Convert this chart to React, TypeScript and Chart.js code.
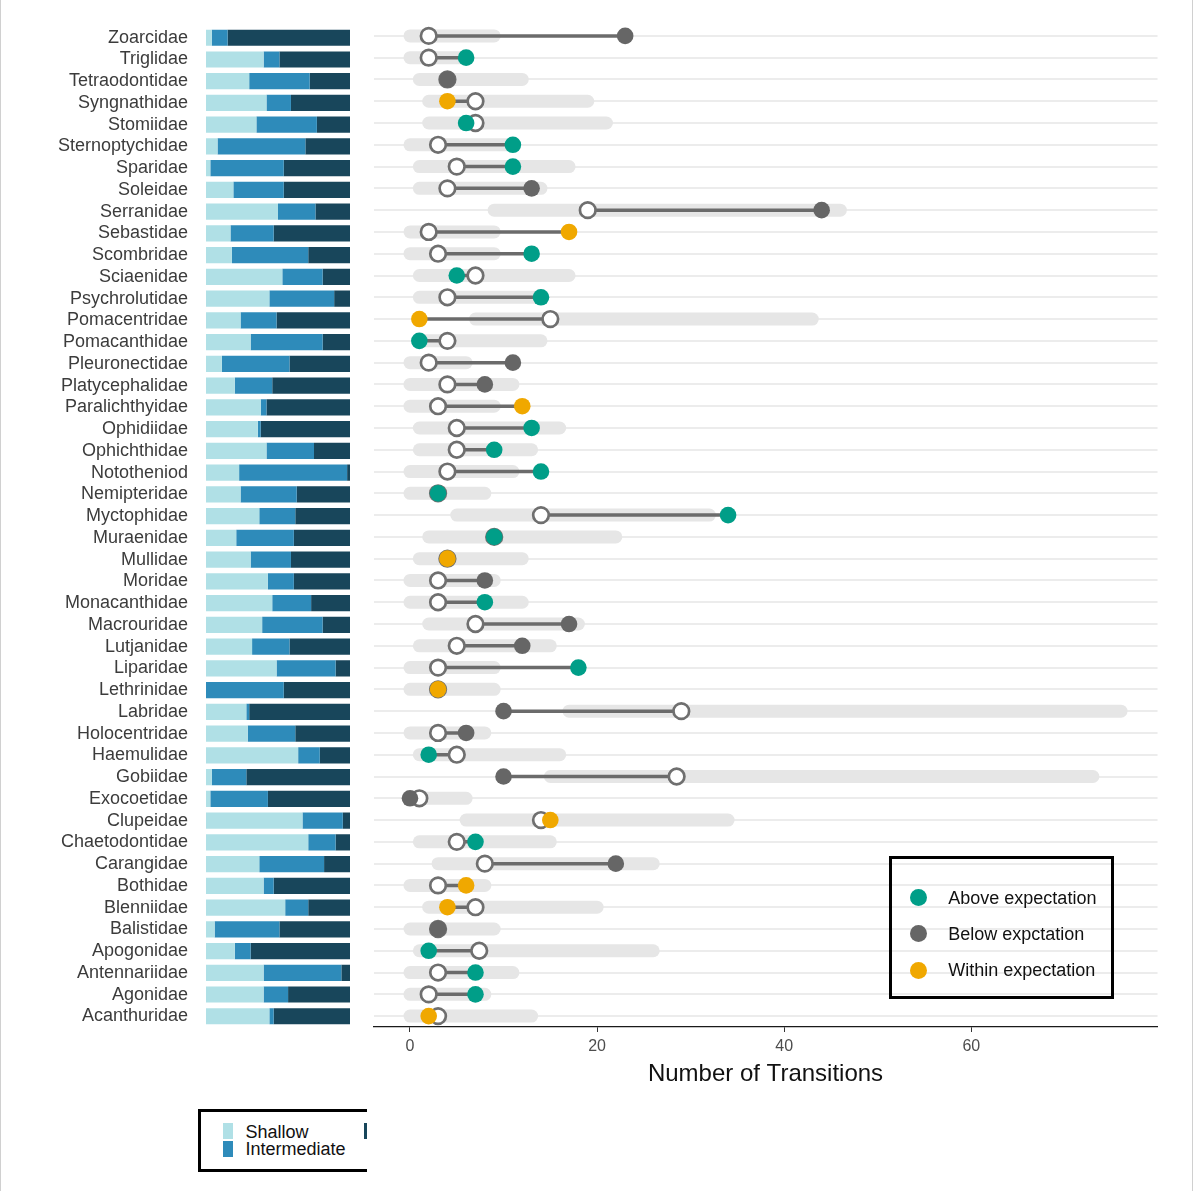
import React, { useEffect, useRef } from "react";
import { Chart, registerables } from "chart.js";

Chart.register(...registerables);

const FONT = '"Liberation Sans", Arial, Helvetica, sans-serif';
Chart.defaults.font.family = FONT;

// ---------- data ----------
const families = [
  "Zoarcidae", "Triglidae", "Tetraodontidae", "Syngnathidae", "Stomiidae",
  "Sternoptychidae", "Sparidae", "Soleidae", "Serranidae", "Sebastidae",
  "Scombridae", "Sciaenidae", "Psychrolutidae", "Pomacentridae", "Pomacanthidae",
  "Pleuronectidae", "Platycephalidae", "Paralichthyidae", "Ophidiidae", "Ophichthidae",
  "Nototheniod", "Nemipteridae", "Myctophidae", "Muraenidae", "Mullidae",
  "Moridae", "Monacanthidae", "Macrouridae", "Lutjanidae", "Liparidae",
  "Lethrinidae", "Labridae", "Holocentridae", "Haemulidae", "Gobiidae",
  "Exocoetidae", "Clupeidae", "Chaetodontidae", "Carangidae", "Bothidae",
  "Blenniidae", "Balistidae", "Apogonidae", "Antennariidae", "Agonidae",
  "Acanthuridae",
];

// depth proportions (%)
const shallow = [
  4, 40, 30, 42, 35, 8, 3, 19, 50, 17,
  18, 53, 44, 24, 31, 11, 20, 38, 36, 42,
  23, 24, 37, 21, 31, 43, 46, 39, 32, 49,
  0, 28, 29, 64, 4, 3, 67, 71, 37, 40,
  55, 6, 20, 40, 40, 44,
];
const intermediate = [
  11, 11, 42, 17, 42, 61, 51, 35, 26, 30,
  53, 28, 45, 25, 50, 47, 26, 4, 2, 33,
  75, 39, 25, 40, 28, 18, 27, 42, 26, 41,
  54, 2, 33, 15, 24, 40, 28, 19, 45, 7,
  16, 45, 11, 54, 17, 3,
];
const deep = [
  85, 49, 28, 41, 23, 31, 46, 46, 24, 53,
  29, 19, 11, 51, 19, 42, 54, 58, 62, 25,
  2, 37, 38, 39, 41, 39, 27, 19, 42, 10,
  46, 70, 38, 21, 72, 57, 5, 10, 18, 53,
  29, 49, 69, 6, 43, 53,
];

// expectation range (number of transitions)
const rangeLow = [
  0, 0, 1, 2, 2, 0, 1, 1, 9, 0,
  0, 1, 1, 7, 1, 0, 0, 0, 1, 1,
  0, 0, 5, 2, 1, 0, 0, 2, 1, 0,
  0, 17, 0, 1, 15, 0, 6, 1, 3, 0,
  2, 0, 1, 0, 0, 0,
];
const rangeHigh = [
  9, 6, 12, 19, 21, 11, 17, 14, 46, 9,
  9, 17, 14, 43, 14, 6, 11, 9, 16, 13,
  11, 8, 32, 22, 12, 9, 12, 18, 15, 9,
  9, 76, 8, 16, 73, 6, 34, 15, 26, 8,
  20, 9, 26, 11, 8, 13,
];
const expected = [
  2, 2, 4, 7, 7, 3, 5, 4, 19, 2,
  3, 7, 4, 15, 4, 2, 4, 3, 5, 5,
  4, 3, 14, 9, 4, 3, 3, 7, 5, 3,
  3, 29, 3, 5, 28.5, 1, 14, 5, 8, 3,
  7, 3, 7.4, 3, 2, 3,
];
const observed = [
  23, 6, 4, 4, 6, 11, 11, 13, 44, 17,
  13, 5, 14, 1, 1, 11, 8, 12, 13, 9,
  14, 3, 34, 9, 4, 8, 8, 17, 12, 18,
  3, 10, 6, 2, 10, 0, 15, 7, 22, 6,
  4, 3, 2, 7, 7, 2,
];
const status = [
  "below", "above", "below", "within", "above", "above", "above", "below", "below", "within",
  "above", "above", "above", "within", "above", "below", "below", "within", "above", "above",
  "above", "above", "above", "above", "within", "below", "above", "below", "below", "above",
  "within", "below", "below", "above", "below", "below", "within", "above", "below", "within",
  "within", "below", "above", "above", "above", "within",
];

const statusKeys = ["above", "below", "within"];
const statusLabels = ["Above expectation", "Below expctation", "Within expectation"];
const depthLabels = ["Shallow", "Intermediate", "Deep"];
const xTicks = [0, 20, 40, 60];

// ---------- styles ----------
const C_SHALLOW = "#b0e0e6";
const C_INTER = "#2e8bba";
const C_DEEP = "#18465b";
const depthColors = [C_SHALLOW, C_INTER, C_DEEP];
const dotColors: Record<string, string> = { above: "#009e88", below: "#666666", within: "#f0a800" };
const C_RANGE = "#e6e6e6";
const C_LINK = "#6b6b6b";
const C_RING = "#6f6f6f";

function LeftBars() {
  const ref = useRef<HTMLCanvasElement>(null);
  useEffect(() => {
    const chart = new Chart(ref.current as HTMLCanvasElement, {
      type: "bar",
      data: {
        labels: families,
        datasets: [shallow, intermediate, deep].map((d, k) => ({
          label: depthLabels[k],
          data: d,
          backgroundColor: depthColors[k],
          borderWidth: 0,
          barPercentage: 0.74,
          categoryPercentage: 1,
        })),
      },
      options: {
        indexAxis: "y",
        responsive: false,
        animation: false,
        events: [],
        layout: { padding: { top: 23, bottom: 3, right: 10, left: 0 } },
        scales: {
          x: { stacked: true, min: 0, max: 100, display: false },
          y: {
            stacked: true,
            offset: true,
            grid: { display: false, drawTicks: false },
            border: { display: false },
            ticks: { color: "#3c3c3c", font: { size: 18, family: FONT }, padding: 18, autoSkip: false },
            afterFit: (s: any) => {
              s.width = 206;
            },
          },
        },
        plugins: { legend: { display: false }, tooltip: { enabled: false } },
      } as any,
    });
    return () => chart.destroy();
  }, []);
  return <canvas ref={ref} width={360} height={1058} style={{ position: "absolute", left: 0, top: -2 }} />;
}

function RightDumbbell() {
  const ref = useRef<HTMLCanvasElement>(null);
  useEffect(() => {
    const rangeSets = families.map((f, i) => ({
      type: "scatter",
      data: [
        { x: rangeLow[i], y: f },
        { x: rangeHigh[i], y: f },
      ],
      showLine: true,
      borderColor: C_RANGE,
      borderWidth: 13,
      borderCapStyle: "round",
      pointRadius: 0,
      order: 40,
    }));
    const linkSets = families.map((f, i) => ({
      type: "scatter",
      data: [
        { x: expected[i], y: f },
        { x: observed[i], y: f },
      ],
      showLine: true,
      borderColor: C_LINK,
      borderWidth: 3.5,
      borderCapStyle: "butt",
      pointRadius: 0,
      order: 30,
    }));
    const expSet = {
      type: "scatter",
      data: families.map((f, i) => ({ x: expected[i], y: f })),
      pointRadius: 7.8,
      pointBackgroundColor: "#ffffff",
      pointBorderColor: C_RING,
      pointBorderWidth: 2.7,
      order: 20,
    };
    const obsSets = statusKeys.map((k) => ({
      type: "scatter",
      label: k,
      data: families
        .map((f, i) => (status[i] === k ? { x: observed[i], y: f } : null))
        .filter((p) => p !== null),
      pointRadius: 8.3,
      pointBackgroundColor: dotColors[k],
      pointBorderWidth: 0,
      order: 10,
    }));

    const chart = new Chart(ref.current as HTMLCanvasElement, {
      type: "scatter",
      data: {
        labels: families,
        datasets: [...rangeSets, ...linkSets, expSet, ...obsSets] as any,
      },
      options: {
        responsive: false,
        animation: false,
        events: [],
        layout: { padding: { top: 25, bottom: 0, left: 10, right: 10 } },
        scales: {
          x: {
            type: "linear",
            min: -3.9,
            max: 79.9,
            afterBuildTicks: (s: any) => {
              s.ticks = xTicks.map((v) => ({ value: v }));
            },
            grid: { drawOnChartArea: false, drawTicks: true, tickLength: 5, color: "#333333", lineWidth: 1 },
            border: { display: true, color: "#1a1a1a", width: 1.3 },
            ticks: { color: "#4d4d4d", font: { size: 16, family: FONT }, padding: 5, autoSkip: false, maxRotation: 0 },
            title: {
              display: true,
              text: "Number of Transitions",
              color: "#111111",
              font: { size: 24, family: FONT },
              padding: { top: 0, bottom: 11 },
            },
            afterFit: (s: any) => {
              s.height = 73;
            },
          },
          y: {
            type: "category",
            labels: families,
            offset: true,
            grid: { color: "#ececec", lineWidth: 2, drawTicks: false, offset: false },
            border: { display: false },
            ticks: { display: false },
            afterFit: (s: any) => {
              s.width = 0;
            },
          },
        },
        plugins: { legend: { display: false }, tooltip: { enabled: false } },
      } as any,
    });
    return () => chart.destroy();
  }, []);
  return <canvas ref={ref} width={805} height={1100} style={{ position: "absolute", left: 363, top: 0 }} />;
}

function StatusLegend() {
  const rowsY = [897.7, 933.7, 970];
  return (
    <div
      style={{
        position: "absolute",
        left: 889,
        top: 856,
        width: 225,
        height: 143,
        boxSizing: "border-box",
        border: "3px solid #000",
      }}
    >
      {statusKeys.map((k, i) => (
        <React.Fragment key={k}>
          <div
            style={{
              position: "absolute",
              left: 918.7 - 8.5 - 892,
              top: rowsY[i] - 8.5 - 859,
              width: 17,
              height: 17,
              borderRadius: "50%",
              background: dotColors[k],
            }}
          />
          <div
            style={{
              position: "absolute",
              left: 948.3 - 892,
              top: rowsY[i] - 8.8 - 859,
              fontSize: 18,
              lineHeight: "18px",
              color: "#111",
              whiteSpace: "nowrap",
            }}
          >
            {statusLabels[i]}
          </div>
        </React.Fragment>
      ))}
    </div>
  );
}

function DepthLegend() {
  const items = [
    { sx: 22, sy: 11, tx: 44.5, ty: 10.9 },
    { sx: 22, sy: 29, tx: 44.5, ty: 28.2 },
    { sx: 163, sy: 11, tx: 185, ty: 10.9 },
  ];
  return (
    <div style={{ position: "absolute", left: 198, top: 1109, width: 169, height: 63, overflow: "hidden" }}>
      <div
        style={{
          position: "absolute",
          left: 0,
          top: 0,
          width: 320,
          height: 63,
          boxSizing: "border-box",
          border: "3px solid #000",
        }}
      >
        {items.map((it, i) => (
          <React.Fragment key={i}>
            <div
              style={{
                position: "absolute",
                left: it.sx,
                top: it.sy,
                width: 10,
                height: 16,
                background: depthColors[i],
              }}
            />
            <div
              style={{
                position: "absolute",
                left: it.tx,
                top: it.ty,
                fontSize: 18,
                lineHeight: "18px",
                color: "#111",
                whiteSpace: "nowrap",
              }}
            >
              {depthLabels[i]}
            </div>
          </React.Fragment>
        ))}
      </div>
    </div>
  );
}

export default function App() {
  return (
    <div
      style={{
        position: "absolute",
        left: 0,
        top: 0,
        width: 1195,
        height: 1191,
        background: "#ffffff",
        fontFamily: FONT,
        overflow: "hidden",
      }}
    >
      <div style={{ position: "absolute", left: 0, top: 0, width: 1, height: 1191, background: "#d0d0d0" }} />
      <div style={{ position: "absolute", left: 1192, top: 0, width: 1, height: 1191, background: "#d0d0d0" }} />
      <LeftBars />
      <RightDumbbell />
      <StatusLegend />
      <DepthLegend />
    </div>
  );
}
